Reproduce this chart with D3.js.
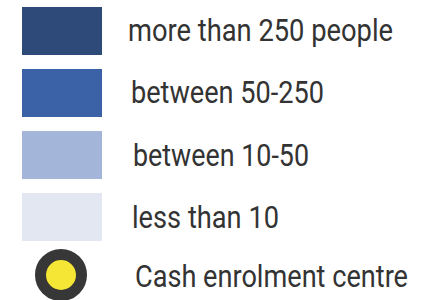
<!DOCTYPE html>
<html>
  <head>
    <style>
      body { margin: 0; background: #fff; }
      svg { font-family: Roboto, sans-serif; }
    </style>
  </head>
  <body>
    <script src="https://d3js.org/d3.v7.min.js"></script>
    <div id="legend"></div>
    <script>
      // legend entries, top to bottom
      var labels = ["more than 250 people", "between 50-250", "between 10-50", "less than 10", "Cash enrolment centre"];
      var kinds = ["rect", "rect", "rect", "rect", "circle"];
      var colors = ["#2e4a78", "#3b62a6", "#a3b6d9", "#e3e7f2", "#f5e636"];

      var width = 437, height = 300;

      var svg = d3.select("#legend")
        .append("svg")
          .attr("width", width)
          .attr("height", height);

      // row centres
      var y = d3.scalePoint()
        .domain(d3.range(labels.length))
        .range([31, 279]);

      var row = svg.selectAll("g.row")
        .data(labels)
        .enter()
        .append("g")
          .attr("class", "row")
          .attr("transform", function(d, i) { return "translate(0," + y(i) + ")"; });

      row.filter(function(d, i) { return kinds[i] == "rect"; })
        .append("rect")
          .attr("x", 22)
          .attr("y", -24)
          .attr("width", 80)
          .attr("height", 48)
          .style("fill", function(d) { return colors[labels.indexOf(d)]; });

      row.filter(function(d, i) { return kinds[i] == "circle"; })
        .append("circle")
          .attr("cx", 61)
          .attr("cy", -4)
          .attr("r", 20.5)
          .style("fill", function(d) { return colors[labels.indexOf(d)]; })
          .style("stroke", "#373737")
          .style("stroke-width", 11);

      // text widths as seen in the picture (font is a bit condensed)
      var textW = [265, 193, 176, 147, 273];
      var textX = [128, 131, 133, 132, 135];
      var dy = [10, 10, 11, 11, 8];

      row.append("text")
        .attr("x", function(d, i) { return textX[i]; })
        .attr("y", function(d, i) { return dy[i]; })
        .attr("textLength", function(d, i) { return textW[i]; })
        .attr("lengthAdjust", "spacingAndGlyphs")
        .attr("font-size", "31px")
        .attr("fill", "#333")
        .text(function(d) { return d; });
    </script>
  </body>
</html>
